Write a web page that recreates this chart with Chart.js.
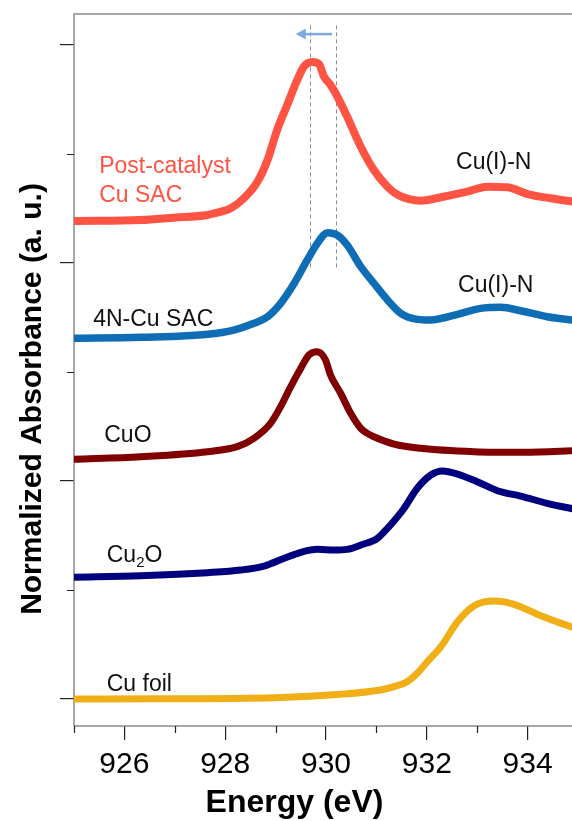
<!DOCTYPE html>
<html>
<head>
<meta charset="utf-8">
<style>
  html, body { margin: 0; padding: 0; overflow: hidden; background: #fff; }
  #wrap { width: 578px; height: 821px; }
</style>
<script src="https://cdn.jsdelivr.net/npm/chart.js@4/dist/chart.umd.min.js"></script>
</head>
<body>
<div id="wrap"><canvas id="xas" width="578" height="821"></canvas></div>
<script>
// Cu L3-edge XANES, spectra offset vertically (a. u.)
const energyPostCat = [925.00, 926.32, 926.98, 927.65, 927.78, 928.11, 928.37, 928.64, 928.84, 929.03, 929.23, 929.43, 929.56, 929.73, 929.86, 929.96, 930.09, 930.19, 930.42, 930.69, 930.95, 931.22, 931.40, 931.65, 931.88, 932.28, 932.80, 933.20, 933.60, 934.00, 934.46, 935.00];
const absPostCat    = [4.385, 4.394, 4.416, 4.440, 4.456, 4.502, 4.594, 4.746, 4.945, 5.220, 5.450, 5.679, 5.801, 5.844, 5.826, 5.709, 5.633, 5.557, 5.342, 5.067, 4.853, 4.700, 4.632, 4.585, 4.572, 4.603, 4.654, 4.700, 4.694, 4.633, 4.594, 4.556];

const energySAC = [925.00, 926.32, 927.65, 928.17, 928.57, 928.84, 929.10, 929.37, 929.63, 929.83, 930.03, 930.22, 930.42, 930.69, 930.95, 931.22, 931.48, 931.62, 931.78, 931.95, 932.14, 932.61, 933.07, 933.47, 933.86, 934.39, 935.00];
const absSAC    = [3.309, 3.318, 3.346, 3.385, 3.447, 3.507, 3.630, 3.814, 4.028, 4.181, 4.278, 4.257, 4.165, 3.966, 3.814, 3.661, 3.539, 3.505, 3.485, 3.478, 3.480, 3.529, 3.584, 3.594, 3.562, 3.507, 3.470];

const energyCuO = [925.00, 926.32, 927.65, 928.24, 928.57, 928.90, 929.10, 929.30, 929.50, 929.66, 929.83, 929.99, 930.09, 930.29, 930.49, 930.69, 930.82, 930.95, 931.35, 931.88, 932.94, 933.93, 935.00];
const absCuO    = [2.199, 2.223, 2.269, 2.315, 2.392, 2.529, 2.682, 2.865, 3.034, 3.156, 3.186, 3.110, 2.972, 2.805, 2.621, 2.483, 2.437, 2.406, 2.339, 2.300, 2.269, 2.263, 2.280];

const energyCu2O = [925.00, 926.32, 927.65, 928.31, 928.77, 929.17, 929.50, 929.83, 930.16, 930.42, 930.75, 930.90, 931.02, 931.15, 931.28, 931.55, 931.81, 932.08, 932.31, 932.61, 933.00, 933.40, 933.86, 934.39, 935.00];
const absCu2O    = [1.117, 1.131, 1.159, 1.183, 1.220, 1.291, 1.346, 1.373, 1.367, 1.373, 1.422, 1.445, 1.474, 1.532, 1.596, 1.750, 1.933, 2.055, 2.092, 2.064, 1.994, 1.911, 1.862, 1.795, 1.735];

const energyFoil = [925.00, 926.65, 928.97, 930.29, 931.08, 931.35, 931.61, 931.81, 932.01, 932.28, 932.61, 932.94, 933.33, 933.73, 934.26, 935.00];
const absFoil    = [0.000, 0.002, 0.012, 0.043, 0.083, 0.113, 0.159, 0.236, 0.342, 0.480, 0.709, 0.856, 0.899, 0.869, 0.764, 0.640];

const xMajorTicks = [926, 928, 930, 932, 934];
const xMinorTicks = [925, 927, 929, 931, 933, 935];
const yMajorTicks = [0, 2, 4, 6];
const yMinorTicks = [1, 3, 5];

// white-line peak positions (post-catalyst vs. fresh SAC)
const peakGuides = [929.68, 930.20];

const FONT = '"Liberation Sans", Arial, Helvetica, sans-serif';

function toPoints(xs, ys) { return xs.map((x, i) => ({ x: x, y: ys[i] })); }

const series = [
  { label: 'Post-catalyst Cu SAC', x: energyPostCat, y: absPostCat, color: '#FF5343', width: 8 },
  { label: '4N-Cu SAC', x: energySAC, y: absSAC, color: '#0F6DB6', width: 7.5 },
  { label: 'CuO', x: energyCuO, y: absCuO, color: '#800000', width: 7 },
  { label: 'Cu2O', x: energyCu2O, y: absCu2O, color: '#00007F', width: 7 },
  { label: 'Cu foil', x: energyFoil, y: absFoil, color: '#F0AF17', width: 7 }
];

// text annotations anchored in data space (left edge, baseline)
const notes = [
  { parts: [['Post-catalyst']], x: 925.50, y: 4.823, color: '#FF5343' },
  { parts: [['Cu SAC']], x: 925.50, y: 4.562, color: '#FF5343' },
  { parts: [['4N-Cu SAC']], x: 925.38, y: 3.422, color: '#111' },
  { parts: [['CuO']], x: 925.60, y: 2.355, color: '#111' },
  { parts: [['Cu'], ['2', 'sub'], ['O']], x: 925.65, y: 1.260, color: '#111' },
  { parts: [['Cu foil']], x: 925.65, y: 0.076, color: '#111' },
  { parts: [['Cu(I)-N']], x: 932.58, y: 4.859, color: '#111' },
  { parts: [['Cu(I)-N']], x: 932.62, y: 3.737, color: '#111' }
];

const decorPlugin = {
  id: 'decor',
  beforeDatasetsDraw(chart) {
    const { ctx, chartArea: a, scales: { x, y } } = chart;
    ctx.save();
    // frame
    ctx.strokeStyle = '#8a8a8a';
    ctx.lineWidth = 1.5;
    ctx.beginPath();
    ctx.moveTo(a.left, a.bottom); ctx.lineTo(a.left, a.top);
    ctx.lineTo(a.right, a.top); ctx.lineTo(a.right, a.bottom);
    ctx.lineTo(a.left, a.bottom);
    ctx.stroke();
    // minor tick marks
    ctx.strokeStyle = '#222';
    ctx.lineWidth = 1.2;
    ctx.beginPath();
    xMinorTicks.forEach(v => {
      const px = Math.round(x.getPixelForValue(v)) + 0.5;
      ctx.moveTo(px, a.bottom); ctx.lineTo(px, a.bottom + 7);
    });
    yMinorTicks.forEach(v => {
      const py = Math.round(y.getPixelForValue(v)) + 0.5;
      ctx.moveTo(a.left - 7, py); ctx.lineTo(a.left, py);
    });
    ctx.stroke();
    // dashed peak guides
    ctx.strokeStyle = '#8c8c8c';
    ctx.lineWidth = 1;
    ctx.setLineDash([4, 3]);
    ctx.beginPath();
    peakGuides.forEach(e => {
      const px = Math.round(x.getPixelForValue(e)) + 0.5;
      ctx.moveTo(px, y.getPixelForValue(6.18));
      ctx.lineTo(px, y.getPixelForValue(3.95));
    });
    ctx.stroke();
    ctx.setLineDash([]);
    // shift arrow between the two peak positions
    const ay = y.getPixelForValue(6.10);
    const x0 = x.getPixelForValue(peakGuides[1] - 0.08);
    const x1 = x.getPixelForValue(peakGuides[0] - 0.28);
    ctx.strokeStyle = '#7EAAE0';
    ctx.fillStyle = '#7EAAE0';
    ctx.lineWidth = 2.5;
    ctx.beginPath();
    ctx.moveTo(x0, ay); ctx.lineTo(x1 + 8, ay);
    ctx.stroke();
    ctx.beginPath();
    ctx.moveTo(x1, ay); ctx.lineTo(x1 + 10, ay - 5.5); ctx.lineTo(x1 + 10, ay + 5.5);
    ctx.closePath();
    ctx.fill();
    ctx.restore();
  },
  afterDatasetsDraw(chart) {
    const { ctx, scales: { x, y } } = chart;
    ctx.save();
    ctx.textBaseline = 'alphabetic';
    ctx.textAlign = 'left';
    notes.forEach(n => {
      let px = x.getPixelForValue(n.x);
      const py = y.getPixelForValue(n.y);
      ctx.fillStyle = n.color;
      n.parts.forEach(p => {
        if (p[1] === 'sub') {
          ctx.font = '15px ' + FONT;
          ctx.fillText(p[0], px, py + 5);
        } else {
          ctx.font = '23px ' + FONT;
          ctx.fillText(p[0], px, py);
        }
        px += ctx.measureText(p[0]).width;
      });
    });
    // axis titles
    ctx.fillStyle = '#000';
    ctx.font = 'bold 32px ' + FONT;
    ctx.textAlign = 'center';
    ctx.fillText('Energy (eV)', 294.5, 812);
    ctx.translate(41, 399);
    ctx.rotate(-Math.PI / 2);
    ctx.font = 'bold 30px ' + FONT;
    ctx.fillText('Normalized Absorbance (a. u.)', 0, 0);
    ctx.restore();
  }
};

new Chart(document.getElementById('xas'), {
  type: 'line',
  data: {
    datasets: series.map(s => ({
      label: s.label,
      data: toPoints(s.x, s.y),
      borderColor: s.color,
      borderWidth: s.width,
      pointRadius: 0,
      fill: false,
      cubicInterpolationMode: 'monotone',
      borderCapStyle: 'butt',
      borderJoinStyle: 'round'
    }))
  },
  options: {
    responsive: false,
    animation: false,
    layout: { padding: { top: 14, right: 0, left: 0, bottom: 0 } },
    plugins: { legend: { display: false }, tooltip: { enabled: false } },
    scales: {
      x: {
        type: 'linear',
        min: 925,
        max: 935,
        afterBuildTicks: s => { s.ticks = xMajorTicks.map(v => ({ value: v })); },
        afterFit: s => { s.height = 95; },
        border: { display: false },
        grid: { drawOnChartArea: false, tickLength: 14, color: '#222', lineWidth: 1.2 },
        ticks: {
          autoSkip: false, maxRotation: 0, padding: 7, color: '#000',
          font: { family: FONT, size: 30 },
          callback: v => String(v)
        }
      },
      y: {
        type: 'linear',
        min: -0.2477,
        max: 6.2844,
        afterBuildTicks: s => { s.ticks = yMajorTicks.map(v => ({ value: v })); },
        afterFit: s => { s.width = 74; },
        border: { display: false },
        grid: { drawOnChartArea: false, tickLength: 14, color: '#222', lineWidth: 1.2 },
        ticks: { display: false }
      }
    }
  },
  plugins: [decorPlugin]
});
</script>
</body>
</html>
